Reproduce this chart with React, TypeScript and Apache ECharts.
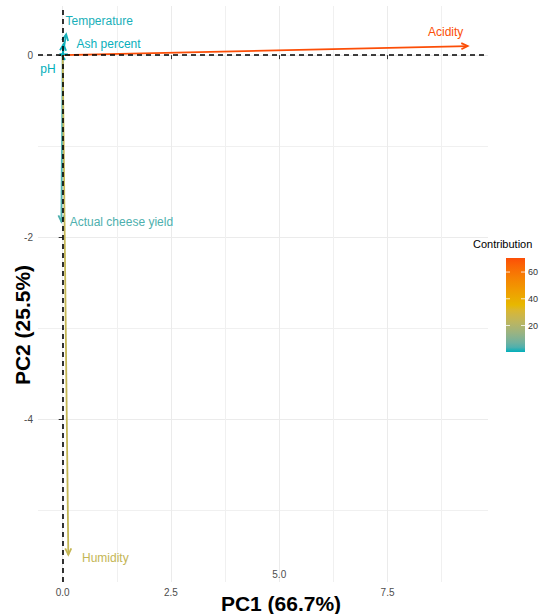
import React, { useEffect, useRef } from "react";
import * as echarts from "echarts";

// ---- data ----
const VARIABLES = ["Acidity", "Temperature", "Ash percent", "pH", "Actual cheese yield", "Humidity"];
const PC1 = [9.35, 0.08, 0.02, -0.04, -0.03, 0.13];
const PC2 = [0.1, 0.23, 0.12, 0.01, -1.83, -5.49];
const CONTRIB = [70.5, 0.6, 0.3, 0.2, 3.6, 24.8];
const X_TICKS = [0, 2.5, 5, 7.5];
const X_MINOR = [1.25, 3.75, 6.25, 8.75];
const Y_TICKS = [0, -2, -4];
const Y_MINOR = [-1, -3, -5];
const LEGEND_TICKS = [20, 40, 60];
const GRADIENT = ["#00AFBB", "#E7B800", "#FC4E07"];

// ---- layout (label offsets from arrow tips, px) ----
const LABEL_OFFSETS: [number, number][] = [
  [-22, -14],
  [33, -13],
  [45, 0],
  [-13, 15],
  [60, 0],
  [37, 3],
];

const FONT = "'Liberation Sans', Arial, Helvetica, sans-serif";

function hexToRgb(h: string): number[] {
  return [1, 3, 5].map((i) => parseInt(h.slice(i, i + 2), 16));
}
function toLin(c: number) {
  c /= 255;
  return c <= 0.04045 ? c / 12.92 : Math.pow((c + 0.055) / 1.055, 2.4);
}
function fromLin(c: number) {
  const v = c <= 0.0031308 ? 12.92 * c : 1.055 * Math.pow(c, 1 / 2.4) - 0.055;
  return Math.round(Math.max(0, Math.min(1, v)) * 255);
}
const XN = 0.95047, YN = 1, ZN = 1.08883;
function rgbToLab(rgb: number[]) {
  const [R, G, B] = rgb.map(toLin);
  const X = 0.4124 * R + 0.3576 * G + 0.1805 * B;
  const Y = 0.2126 * R + 0.7152 * G + 0.0722 * B;
  const Z = 0.0193 * R + 0.1192 * G + 0.9505 * B;
  const f = (t: number) => (t > 0.008856 ? Math.cbrt(t) : 7.787 * t + 16 / 116);
  const fx = f(X / XN), fy = f(Y / YN), fz = f(Z / ZN);
  return [116 * fy - 16, 500 * (fx - fy), 200 * (fy - fz)];
}
function labToRgb(lab: number[]) {
  const [L, a, b] = lab;
  const fy = (L + 16) / 116, fx = fy + a / 500, fz = fy - b / 200;
  const inv = (t: number) => (t * t * t > 0.008856 ? t * t * t : (t - 16 / 116) / 7.787);
  const X = XN * inv(fx), Y = YN * inv(fy), Z = ZN * inv(fz);
  const R = 3.2406 * X - 1.5372 * Y - 0.4986 * Z;
  const G = -0.9689 * X + 1.8758 * Y + 0.0415 * Z;
  const B = 0.0557 * X - 0.204 * Y + 1.057 * Z;
  return [fromLin(R), fromLin(G), fromLin(B)];
}
const LABS = GRADIENT.map((h) => rgbToLab(hexToRgb(h)));
const CMIN = Math.min(...CONTRIB);
const CMAX = Math.max(...CONTRIB);
function colorAt(t: number) {
  t = Math.max(0, Math.min(1, t));
  const seg = t < 0.5 ? 0 : 1;
  const f = (t - seg * 0.5) / 0.5;
  const a = LABS[seg], b = LABS[seg + 1];
  const lab = [0, 1, 2].map((i) => a[i] + (b[i] - a[i]) * f);
  const [r, g, bb] = labToRgb(lab);
  return `rgb(${r},${g},${bb})`;
}
function colorFor(v: number) {
  return colorAt((v - CMIN) / (CMAX - CMIN));
}

export default function App() {
  const ref = useRef<HTMLDivElement>(null);
  useEffect(() => {
    if (!ref.current) return;
    const chart = echarts.init(ref.current, undefined, { renderer: "svg" });

    const grid = { left: 38, right: 51, top: 6, bottom: 32 };
    const xMin = -0.57, xMax = 9.82, yMin = -5.79, yMax = 0.54;

    // legend colour bar
    const barX = 506, barY = 258, barW = 19, barH = 94;
    const stops = [];
    for (let i = 0; i <= 20; i++) {
      stops.push({ offset: i / 20, color: colorAt(1 - i / 20) });
    }
    const legendEls: any[] = [
      {
        type: "text",
        left: 473,
        top: 238,
        style: { text: "Contribution", font: `11px ${FONT}`, fill: "#000" },
      },
      {
        type: "rect",
        shape: { x: barX, y: barY, width: barW, height: barH },
        style: { fill: new echarts.graphic.LinearGradient(0, 0, 0, 1, stops) },
      },
    ];
    LEGEND_TICKS.forEach((v) => {
      const y = barY + barH - ((v - CMIN) / (CMAX - CMIN)) * barH;
      legendEls.push({
        type: "line",
        shape: { x1: barX, y1: y, x2: barX + 4, y2: y },
        style: { stroke: "rgba(255,255,255,0.8)", lineWidth: 1 },
      });
      legendEls.push({
        type: "line",
        shape: { x1: barX + barW - 4, y1: y, x2: barX + barW, y2: y },
        style: { stroke: "rgba(255,255,255,0.8)", lineWidth: 1 },
      });
      legendEls.push({
        type: "text",
        x: barX + barW + 3,
        y: y,
        style: { text: String(v), font: `9px ${FONT}`, fill: "#333", verticalAlign: "middle" },
      });
    });

    const option: any = {
      animation: false,
      textStyle: { fontFamily: FONT },
      grid: { ...grid, containLabel: false, outerBoundsMode: "none" },
      xAxis: [
        {
          type: "value",
          min: xMin,
          max: xMax,
          position: "bottom",
          axisLine: { show: false },
          axisTick: { show: true, length: 4, customValues: X_TICKS, lineStyle: { color: "#333", width: 1 } },
          axisLabel: {
            customValues: [X_TICKS[0], X_TICKS[1], X_TICKS[3]],
            formatter: (v: number) => v.toFixed(1),
            color: "#4D4D4D",
            fontSize: 10,
            margin: 5,
          },
          splitLine: { show: true, lineStyle: { color: "#EBEBEB", width: 1 } },
        },
        {
          type: "value",
          min: xMin,
          max: xMax,
          position: "bottom",
          axisLine: { show: false },
          axisTick: { show: false, customValues: X_MINOR },
          axisLabel: {
            inside: true,
            customValues: [X_TICKS[2]],
            formatter: (v: number) => v.toFixed(1),
            color: "#4D4D4D",
            fontSize: 10,
            margin: 3,
          },
          splitLine: { show: true, lineStyle: { color: "#F0F0F0", width: 1 } },
        },
      ],
      yAxis: [
        {
          type: "value",
          min: yMin,
          max: yMax,
          position: "left",
          axisLine: { show: false },
          axisTick: { show: true, length: 4, customValues: Y_TICKS, lineStyle: { color: "#333", width: 1 } },
          axisLabel: {
            customValues: Y_TICKS,
            formatter: (v: number) => String(v),
            color: "#4D4D4D",
            fontSize: 10,
            margin: 5,
          },
          splitLine: { show: true, lineStyle: { color: "#EBEBEB", width: 1 } },
        },
        {
          type: "value",
          min: yMin,
          max: yMax,
          position: "left",
          axisLine: { show: false },
          axisTick: { show: false, customValues: Y_MINOR },
          axisLabel: { show: false },
          splitLine: { show: true, lineStyle: { color: "#F0F0F0", width: 1 } },
        },
      ],
      series: [
        {
          type: "custom",
          xAxisIndex: 0,
          yAxisIndex: 0,
          clip: false,
          z: 2,
          data: VARIABLES.map((_, i) => [PC1[i], PC2[i], CONTRIB[i]]),
          renderItem: (params: any, api: any) => {
            const i = params.dataIndex;
            const p0 = api.coord([0, 0]);
            const p1 = api.coord([api.value(0), api.value(1)]);
            const color = colorFor(api.value(2));
            const ang = Math.atan2(p1[1] - p0[1], p1[0] - p0[0]);
            const L = 7, a = Math.PI / 7;
            const h1 = [p1[0] - L * Math.cos(ang - a), p1[1] - L * Math.sin(ang - a)];
            const h2 = [p1[0] - L * Math.cos(ang + a), p1[1] - L * Math.sin(ang + a)];
            const off = LABEL_OFFSETS[i];
            return {
              type: "group",
              children: [
                {
                  type: "line",
                  shape: { x1: p0[0], y1: p0[1], x2: p1[0], y2: p1[1] },
                  style: { stroke: color, lineWidth: 1.8 },
                },
                {
                  type: "polyline",
                  shape: { points: [h1, p1, h2] },
                  style: { stroke: color, lineWidth: 1.8, fill: null },
                },
                {
                  type: "text",
                  x: p1[0] + off[0],
                  y: p1[1] + off[1],
                  style: {
                    text: VARIABLES[i],
                    fill: color,
                    font: `12px ${FONT}`,
                    align: "center",
                    verticalAlign: "middle",
                  },
                },
              ],
            };
          },
        },
        {
          type: "line",
          xAxisIndex: 0,
          yAxisIndex: 0,
          data: [],
          z: 3,
          markLine: {
            silent: true,
            symbol: "none",
            label: { show: false },
            lineStyle: { color: "#000", type: [5, 4], width: 1.6 },
            data: [{ xAxis: 0 }, { yAxis: 0 }],
          },
        },
      ],
      graphic: [
        {
          type: "text",
          x: 281,
          y: 603,
          style: {
            text: "PC1 (66.7%)",
            font: `bold 21px ${FONT}`,
            fill: "#000",
            align: "center",
            verticalAlign: "middle",
          },
        },
        {
          type: "text",
          x: 22,
          y: 325,
          rotation: Math.PI / 2,
          style: {
            text: "PC2 (25.5%)",
            font: `bold 21px ${FONT}`,
            fill: "#000",
            align: "center",
            verticalAlign: "middle",
          },
        },
        ...legendEls,
      ],
    };
    chart.setOption(option);
    return () => chart.dispose();
  }, []);
  return (
    <div
      ref={ref}
      style={{ position: "fixed", left: 0, top: 0, width: 539, height: 614, background: "#fff" }}
    />
  );
}
